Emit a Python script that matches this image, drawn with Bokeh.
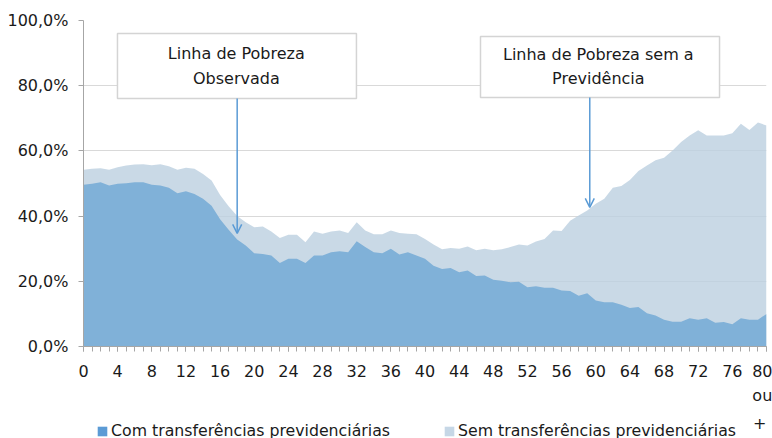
import numpy as np
from bokeh.plotting import figure
from bokeh.layouts import column
from bokeh.models import (ColumnDataSource, Range1d, FixedTicker, Legend, LegendItem,
                          BoxAnnotation, Label, Arrow, OpenHead)
from bokeh.embed import file_html
from bokeh.resources import INLINE

# ---- data ----
ages = list(range(81))
sem = [54.2, 54.5, 54.7, 54.2, 55.0, 55.5, 55.8, 55.9, 55.6, 55.9,
       55.3, 54.2, 54.8, 54.5, 52.9, 50.9, 46.5, 43.0, 40.0, 38.1,
       36.6, 36.8, 35.3, 33.3, 34.3, 34.3, 32.0, 35.3, 34.6, 35.3,
       35.6, 34.8, 38.1, 35.6, 34.4, 34.4, 35.6, 34.8, 34.6, 34.4,
       33.0, 31.3, 29.8, 30.2, 30.0, 30.7, 29.5, 30.0, 29.5, 29.8,
       30.5, 31.3, 31.0, 32.2, 33.0, 35.6, 35.4, 38.6, 40.2, 41.7,
       43.8, 45.3, 48.7, 49.2, 51.1, 53.8, 55.5, 57.1, 57.9, 60.1,
       62.7, 64.7, 66.3, 64.7, 64.7, 64.7, 65.4, 68.3, 66.4, 68.7, 67.8]
com = [49.6, 49.9, 50.4, 49.4, 49.9, 50.1, 50.4, 50.4, 49.6, 49.4,
       48.7, 47.0, 47.6, 46.8, 45.3, 43.2, 39.0, 35.8, 32.8, 31.0,
       28.6, 28.4, 27.9, 25.6, 26.9, 26.9, 25.6, 27.9, 27.9, 28.9,
       29.2, 28.9, 32.3, 30.5, 28.9, 28.6, 30.0, 28.2, 28.9, 27.9,
       26.9, 24.8, 23.8, 24.1, 22.8, 23.3, 21.6, 21.8, 20.5, 20.2,
       19.7, 19.9, 18.2, 18.5, 18.0, 18.0, 17.2, 17.0, 15.6, 16.3,
       14.1, 13.6, 13.6, 12.8, 11.8, 12.1, 10.2, 9.5, 8.2, 7.6,
       7.6, 8.7, 8.2, 8.7, 7.3, 7.5, 6.8, 8.7, 8.2, 8.2, 10.0]

y_ticks = [0, 20, 40, 60, 80, 100]
y_tick_labels = ["0,0%", "20,0%", "40,0%", "60,0%", "80,0%", "100,0%"]
x_ticks = list(range(0, 81, 4))
x_tick_labels = [str(t) for t in x_ticks[:-1]] + ["80\nou"]
last_label_tail = "+"
series_names = ["Com transferências previdenciárias",
                "Sem transferências previdenciárias"]
box_texts = [["Linha de Pobreza", "Observada"],
             ["Linha de Pobreza sem a", "Previdência"]]

FONT = "DejaVu Sans"
TXT = "#1a1a1a"
AXIS = "#A6A6A6"
ARROW = "#5B9BD5"

src = ColumnDataSource(dict(age=ages, sem=sem, com=com))

p = figure(width=772, height=414, x_range=Range1d(0, 80), y_range=Range1d(0, 100),
           output_backend="svg", toolbar_location=None,
           min_border_left=83, min_border_right=6, min_border_top=20,
           min_border_bottom=68)
p.outline_line_color = None

# grid
p.xgrid.visible = False
p.ygrid.ticker = FixedTicker(ticks=y_ticks)
p.ygrid.grid_line_color = "#D9D9D9"
p.ygrid.grid_line_width = 1

# axes
p.yaxis.ticker = FixedTicker(ticks=y_ticks)
p.yaxis.major_label_overrides = dict(zip(y_ticks, y_tick_labels))
p.yaxis.minor_tick_line_color = None
p.yaxis.major_tick_in = 0
p.yaxis.major_tick_out = 5
p.yaxis.major_label_standoff = 10

p.xaxis.ticker = FixedTicker(ticks=x_ticks, minor_ticks=ages)
p.xaxis.major_label_overrides = dict(zip(x_ticks, x_tick_labels))
p.xaxis.major_tick_in = 0
p.xaxis.major_tick_out = 5
p.xaxis.minor_tick_in = 0
p.xaxis.minor_tick_out = 5
p.xaxis.major_label_standoff = 10
p.xaxis.major_label_text_line_height = 1.3

for ax in (p.xaxis, p.yaxis):
    ax.axis_line_color = AXIS
    ax.major_tick_line_color = AXIS
    ax.major_label_text_font = FONT
    ax.major_label_text_font_size = "16px"
    ax.major_label_text_color = TXT
p.xaxis.minor_tick_line_color = AXIS

# areas
p.varea(x="age", y1=0, y2="sem", source=src, fill_color="#BBCFE0", fill_alpha=0.8)
p.varea(x="age", y1=0, y2="com", source=src, fill_color="#80B1D8", fill_alpha=1.0)

# annotation boxes with arrows
boxes = [dict(left=3.98, right=31.97, top=96.0, bottom=76.1,
              tx=17.9, ty=[89.9, 82.2], ax=18.0, ay0=76.1, ay1=34.7),
         dict(left=46.5, right=74.5, top=95.1, bottom=76.4,
              tx=60.3, ty=[89.7, 82.3], ax=59.3, ay0=76.4, ay1=42.7)]
for b, texts in zip(boxes, box_texts):
    p.add_layout(BoxAnnotation(left=b["left"], right=b["right"], top=b["top"],
                               bottom=b["bottom"], fill_color="white", fill_alpha=1.0,
                               line_color="#D4D4D4", line_width=1.5, line_alpha=1.0))
    for t, yy in zip(texts, b["ty"]):
        p.add_layout(Label(x=b["tx"], y=yy, text=t, text_align="center",
                           text_baseline="middle", text_font=FONT,
                           text_font_size="16px", text_color=TXT))
    p.add_layout(Arrow(end=OpenHead(size=9, line_color=ARROW, line_width=1.5),
                       x_start=b["ax"], y_start=b["ay0"], x_end=b["ax"], y_end=b["ay1"],
                       line_color=ARROW, line_width=1.5))

# ---- legend strip (own small figure under the chart) ----
lg = figure(width=772, height=24, x_range=Range1d(0, 1), y_range=Range1d(0, 1),
            output_backend="svg", toolbar_location=None,
            x_axis_type=None, y_axis_type=None,
            min_border_left=0, min_border_right=0, min_border_top=0,
            min_border_bottom=0)
lg.outline_line_color = None
lg.xgrid.visible = False
lg.ygrid.visible = False
nan1 = np.array([np.nan])
leg_src = ColumnDataSource(dict(l=nan1, r=nan1, t=nan1, b=nan1))
d_com = lg.quad(left="l", right="r", top="t", bottom="b", source=leg_src,
                fill_color="#5B9BD5", line_color=None)
d_sem = lg.quad(left="l", right="r", top="t", bottom="b", source=leg_src,
                fill_color="#C6D7E6", line_color=None)
legend = Legend(items=[LegendItem(label=series_names[0], renderers=[d_com]),
                       LegendItem(label=series_names[1], renderers=[d_sem])],
                orientation="horizontal", location=(13, -2),
                glyph_width=12, glyph_height=12, label_standoff=3, spacing=53,
                padding=0, margin=0, background_fill_alpha=0, border_line_color=None,
                label_text_font=FONT, label_text_font_size="15.75px",
                label_text_color=TXT)
lg.add_layout(legend)
lg.add_layout(Label(x=683, y=16, x_units="screen", y_units="screen",
                    text=last_label_tail, text_align="right", text_baseline="middle",
                    text_font=FONT, text_font_size="16px", text_color=TXT))

open("out.html", "w").write(file_html(column(p, lg, spacing=0), INLINE))
